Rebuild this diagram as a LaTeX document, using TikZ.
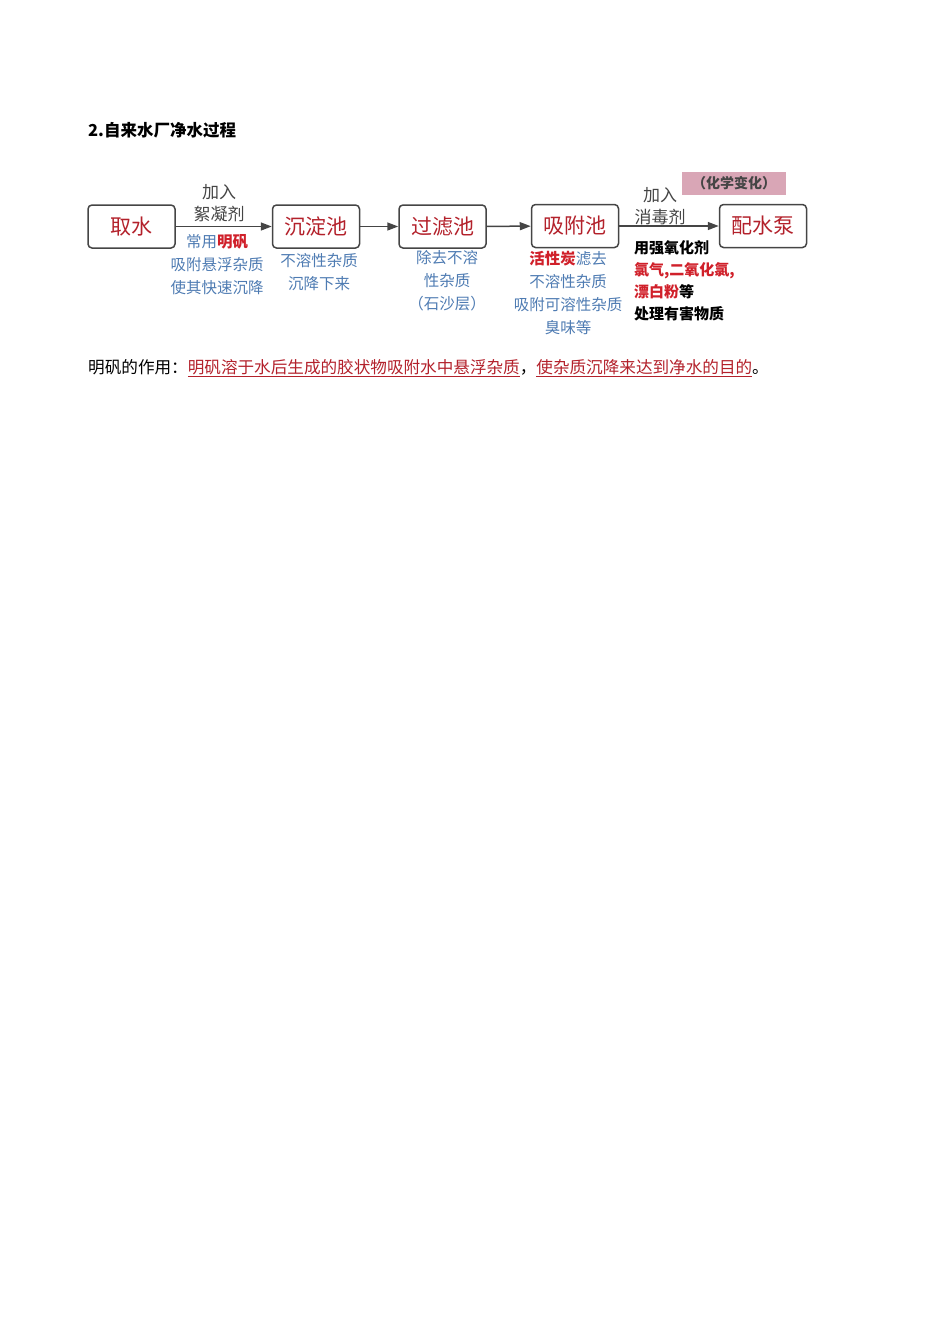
\documentclass[tikz,border=0pt]{standalone}
\usepackage{fontspec}
\setmainfont{Noto Sans CJK SC}
\usetikzlibrary{arrows.meta}
\definecolor{boxred}{HTML}{B3212B}
\definecolor{hired}{HTML}{D0202A}
\definecolor{noteblue}{HTML}{4E7BB2}
\definecolor{linegray}{HTML}{454545}
\definecolor{tagpink}{HTML}{D9A6B6}
\begin{document}
\begin{tikzpicture}[x=1pt, y=-1pt,
    stage/.style={draw=linegray, line width=1.5pt, rounded corners=4pt, minimum width=87pt, minimum height=43pt, inner sep=0pt, text=boxred, font=\fontsize{21}{21}\selectfont},
    flow/.style={draw=linegray, line width=1.5pt, -{Triangle[length=11pt,width=8pt]}},
    addtext/.style={align=center, text=linegray, font=\fontsize{17}{22}\selectfont},
    note/.style={align=center, text=noteblue, inner sep=0pt, font=\fontsize{15.5}{22.7}\selectfont}]
    % page frame
    \useasboundingbox (0,0) rectangle (950,1344);
    % title
    \node[anchor=west, inner sep=0pt, font=\fontsize{16.5}{16.5}\selectfont\bfseries] (title) at (88,130) {2.自来水厂净水过程};
    % stages
    \node[stage] (intake) at (131.5,226.5) {取水};
    \node[stage] (settle) at (316,226.5) {沉淀池};
    \node[stage] (filter) at (442.5,226.5) {过滤池};
    \node[stage] (adsorb) at (575,226) {吸附池};
    \node[stage] (pump) at (763,226) {配水泵};
    % arrows
    \draw[flow] (intake) -- (settle);
    \draw[flow] (settle) -- (filter);
    \draw[flow] (filter) -- (adsorb);
    \draw[flow] (adsorb) -- (pump);
    % what is added
    \node[addtext] (flocc) at (219,203) {加入\\絮凝剂};
    \node[addtext] (disinf) at (660,206) {加入\\消毒剂};
    \node[fill=tagpink, minimum width=104pt, minimum height=23pt, inner sep=0pt, font=\fontsize{14}{14}\selectfont\bfseries, text=linegray] (chem) at (734,183.5) {（化学变化）};
    % notes
    \node[note] (alum) at (217,264.5) {常用{\bfseries\color{hired}明矾}\\吸附悬浮杂质\\使其快速沉降};
    \node[note] (sink) at (319,272) {不溶性杂质\\沉降下来};
    \node[note] (sand) at (447,280.5) {除去不溶\\性杂质\\（石沙层）};
    \node[note] (carbon) at (568,293) {{\bfseries\color{hired}活性炭}滤去\\不溶性杂质\\吸附可溶性杂质\\臭味等};
    \node[anchor=west, align=left, inner sep=0pt, font=\fontsize{15}{22.3}\selectfont\bfseries] (oxid) at (634,280.75) {用强氧化剂\\{\color{hired}氯气,二氧化氯,}\\{\color{hired}漂白粉}等\\处理有害物质};
    % bottom line
    \node[anchor=west, inner sep=0pt, font=\fontsize{16.6}{16.6}\selectfont] (alumuse) at (88,368) {明矾的作用：{\color{boxred}\underline{明矾溶于水后生成的胶状物吸附水中悬浮杂质}}，{\color{boxred}\underline{使杂质沉降来达到净水的目的}}。};
\end{tikzpicture}
\end{document}
